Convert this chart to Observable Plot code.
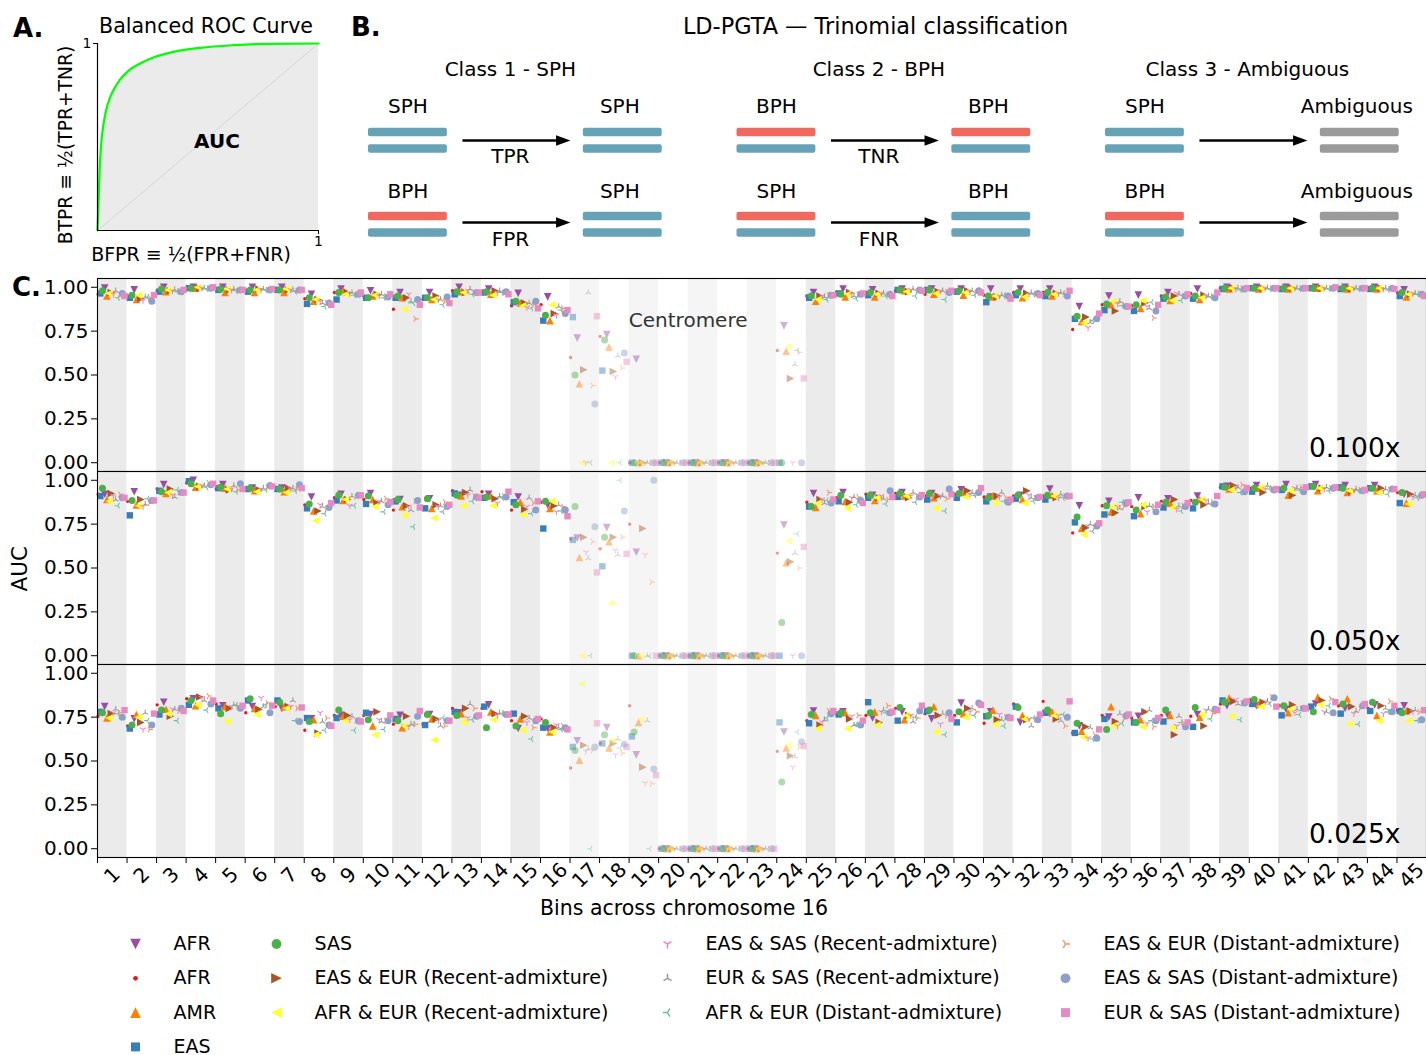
<!DOCTYPE html>
<html>
<head>
<meta charset="utf-8">
<script src="https://cdn.jsdelivr.net/npm/d3@7"></script>
<script src="https://cdn.jsdelivr.net/npm/@observablehq/plot@0.6"></script>
<style>
  body { margin: 0; background: #fff; overflow: hidden; font-family: "DejaVu Sans", sans-serif; }
  #fig { position: relative; width: 1426px; height: 1055px; background: #fff; }
  #fig > svg, #fig > figure { position: absolute; margin: 0; }
  .txt { position: absolute; white-space: nowrap; line-height: 1; color: #000; }
</style>
</head>
<body>
<div id="fig"></div>
<script>
// ---------------- data ----------------
// Panel A: balanced ROC curve
const rocBFPR = [0, 0.003, 0.006, 0.009, 0.0136, 0.0196, 0.03, 0.045, 0.068, 0.10, 0.14, 0.193, 0.253, 0.344, 0.465, 0.615, 0.766, 1];
const rocBTPR = [0, 0.089, 0.196, 0.304, 0.411, 0.5, 0.589, 0.67, 0.741, 0.804, 0.854, 0.893, 0.925, 0.955, 0.977, 0.991, 0.998, 1];

// Panel B: trinomial classification scheme
const classTitles = ["Class 1 - SPH", "Class 2 - BPH", "Class 3 - Ambiguous"];
const transitions = [
  {cls: 0, row: 0, from: "SPH", to: "SPH",       rate: "TPR", fromBars: ["SPH", "SPH"], toBars: ["SPH", "SPH"]},
  {cls: 0, row: 1, from: "BPH", to: "SPH",       rate: "FPR", fromBars: ["BPH", "SPH"], toBars: ["SPH", "SPH"]},
  {cls: 1, row: 0, from: "BPH", to: "BPH",       rate: "TNR", fromBars: ["BPH", "SPH"], toBars: ["BPH", "SPH"]},
  {cls: 1, row: 1, from: "SPH", to: "BPH",       rate: "FNR", fromBars: ["BPH", "SPH"], toBars: ["SPH", "SPH"]},
  {cls: 2, row: 0, from: "SPH", to: "Ambiguous", rate: "",    fromBars: ["SPH", "SPH"], toBars: ["AMB", "AMB"]},
  {cls: 2, row: 1, from: "BPH", to: "Ambiguous", rate: "",    fromBars: ["BPH", "SPH"], toBars: ["AMB", "AMB"]}
];

// Panel C: AUC per bin of chromosome 16 for three coverages
const bins = d3.range(1, 46);
const centromereBins = [17, 18, 19, 20, 21, 22, 23, 24];
const coverages = ["0.100x", "0.050x", "0.025x"];
const groups = ["AFR", "AFR", "AMR", "EAS", "SAS",
  "EAS & EUR (Recent-admixture)", "AFR & EUR (Recent-admixture)",
  "EAS & SAS (Recent-admixture)", "EUR & SAS (Recent-admixture)",
  "AFR & EUR (Distant-admixture)", "EAS & EUR (Distant-admixture)",
  "EAS & SAS (Distant-admixture)", "EUR & SAS (Distant-admixture)"];
// columns of each row below (index into groups) = left-to-right order inside a bin
const rowOrder = [1, 3, 4, 0, 2, 6, 5, 7, 8, 9, 10, 11, 12];

// AUC x 100, one row per bin
const auc0100x = [
  "96 96.5 98 99.5 95 96.5 97 96 98 94 95.5 96.5 95",
  "95 94 95.5 98.5 93 95.5 93.5 92.5 94.5 94.5 94 92 95.5",
  "98 97.5 99 100 97.5 98.5 98 98 98.5 97.5 98 97.5 98.5",
  "99.5 99.5 99.5 100 99.5 100 99.5 99.5 99.5 99 99.5 99.5 100",
  "98.5 98.5 99 100 97 99 98.5 98.5 99 98 98 98.5 98.5",
  "98 97.5 98.5 100 97 98.5 99 98.5 99 98.5 98.5 98.5 99",
  "98.5 98.5 98.5 100 97 99 98.5 98.5 98.5 97.5 98 98.5 98.5",
  "93.5 90.5 94 96 92 93 93 92 91 89 91 91 90",
  "97 93 97 99 98 96 97 96.5 97 95.5 96 96 97",
  "95 94 94 98 95 95.5 96 95 96 94 95 94.5 96",
  "87.5 94 95 97 94 87.5 94 96 92 91 82 93 90",
  "93 94 94 97 93 93 95 93 93 90 92 94.5 91",
  "98 96 97.5 100 97.5 97 97 98 99 96 97 97 97",
  "97 97 97.5 99 96 95.5 98 97 98 97 97 97.5 96",
  "89.5 91.5 92 96.5 91 89.5 91 88.5 91 88 90 92 88",
  "90 81 84 94.5 81 90 85 84 89 87 88 85 87",
  "60 83 50 71 45 0 53 0 97 0 44 33.5 83.5",
  "72 52.5 70 73 66 0 52 49 61 0 54 62.5 57.5",
  "0 0 0 59 0 0 0 0 0 0 0 0 0",
  "0 0 0 0 0 0 0 0 0 0 0 0 0",
  "0 0 0 0 0 0 0 0 0 0 0 0 0",
  "0 0 0 0 0 0 0 0 0 0 0 0 0",
  "0 0 0 0 0 0 0 0 0 0 0 0 0",
  "64 0 0 78 63.5 66 48 0 56 64 63 0 48",
  "95 94 95 97 92 93 95 95 94.5 93 95.5 95.5 95.5",
  "97 96.5 96 99 94.5 96 97 96 95 93.5 96 96 96.5",
  "97 95.5 97 98.5 94.5 96 96.5 96.5 96.5 95 96 96 95",
  "98 98.5 98.5 99 98 97.5 97.5 98.5 99 95 98 98.5 98",
  "96 98.5 98.5 99 96 96.5 97.5 98 98 93 97.5 97 98",
  "98 97.5 98 99 95.5 97 98 97.5 98 95.5 97 98 97",
  "95.5 91.5 95 99 94.5 95 94.5 95 95.5 95.5 95 95 93.5",
  "97 95.5 97 99 94 94.5 96.5 96 97 96 96 96.5 95.5",
  "97 95 97 99 95 96 96.5 96.5 97 96.5 96 95 98",
  "76 82 83.5 89 80.5 79.5 83 77 80 81 81 82 85",
  "90 87 90.5 95 90 92 86.5 90.5 92 89.5 90 89 89",
  "89.5 86.5 90 95.5 88 92.5 91 89 88 91.5 82.5 86.5 90",
  "95 93.5 94.5 97 92.5 92.5 95 96.5 96 92.5 95 95 96",
  "96.5 93.5 95 99 93 94 95.5 95 95 94.5 95 94 97",
  "99.5 99 99.5 100 99 99.5 99.5 99 99.5 98.5 99.5 99 99.5",
  "100 99.5 99.5 100 99 99.5 99.5 99.5 99.5 99 99.5 99.5 99.5",
  "99.5 99 99.5 100 99 99.5 99.5 99.5 99.5 99 99.5 99.5 99.5",
  "100 99.5 99.5 100 99.5 99.5 99.5 99.5 99.5 99 99.5 99.5 100",
  "99.5 99 99.5 100 99 99.5 99 99.5 99.5 99 99.5 99.5 99.5",
  "99.5 99 99.5 100 99 99.5 99.5 99 99.5 98.5 99 99.5 99",
  "97 95 97 98.5 94.5 96 96 96.5 96.5 96 96.5 96 95"
];
const auc0050x = [
  "92 91 95.5 92 89 88 92.5 91 89 85.5 92 90 90",
  "88 80 88.5 93.5 86 85.5 89 85 86.5 89.5 87 88.5 88.5",
  "95 94 93.5 97.5 92.5 93 95 91.5 90.5 94.5 93 93 93",
  "98.5 99.5 98 100 96 96.5 96.5 97 97 96 98.5 97.5 98",
  "95 95.5 96 97.5 95.5 95 94.5 95 97 93.5 94.5 98 95",
  "95.5 95 95.5 95.5 94 93.5 94.5 95 95.5 94.5 96 97 96.5",
  "96 95 95 95.5 93.5 93 95.5 95 95.5 94 95 97.5 95.5",
  "86 84 86.5 90.5 82.5 77 82.5 86 85 81 84 84.5 87",
  "90 88.5 91.5 92 88.5 89 89 85.5 91 85.5 90.5 91.5 91.5",
  "89 86.5 91 92.5 89 85 87 88 88 82 89.5 86 87.5",
  "83 88 89 89 85 80 85.5 85 83 73.5 88 88.5 84.5",
  "84 84 89.5 89.5 84 78.5 86 85 85.5 82 87.5 85 86",
  "94 92.5 91.5 91.5 91 85.5 93 91.5 94.5 88 91 90.5 90",
  "93.5 90 90.5 92 91 85.5 89.5 87 91 90 91 90.5 93.5",
  "83 87.5 86 90.5 87.5 80.5 83.5 85 90 81 87 83 88",
  "87.5 72.5 88 86 84 88 85.5 82 86 82.5 85 83 79.5",
  "66.5 66 85 67 56 0 67.5 59 55.5 0 65 73.5 47.5",
  "61 51 67.5 73 65 30 67.5 60 57.5 100 67.5 82.5 58",
  "75 0 0 59 0 0 72.5 57.5 0 0 42 100 0",
  "0 0 0 0 0 0 0 0 0 0 0 0 0",
  "0 0 0 0 0 0 0 0 0 0 0 0 0",
  "0 0 0 0 0 0 0 0 0 0 0 0 0",
  "0 0 0 0 0 0 0 0 0 0 0 0 0",
  "58.5 0 19 74.5 53 65.5 53.5 0 58.5 69.5 50 0 62",
  "87.5 85 85 92.5 84.5 87 89 89 87 88.5 93 87 89",
  "90 88 91.5 93 88 84 87.5 90 90.5 86 90.5 88.5 87",
  "92 90 91.5 91.5 88.5 90 90 91 89.5 86.5 89 94 90.5",
  "92.5 90.5 92.5 93 91 91 90 91 93 87.5 91 90.5 91.5",
  "91 89 92.5 92.5 90 84 91 91 91 82.5 89.5 95 92",
  "92 90 92.5 94.5 93 90.5 94 92 93 91.5 92 93 95.5",
  "90.5 88 90 90.5 91 87 91 90.5 93 88 90 87.5 89",
  "91 89.5 91.5 91.5 89 87 94 91.5 90 88 90 90 90.5",
  "91 89 91.5 95 91.5 91 90 90 92 90 91 91 91",
  "70 76 79 85.5 72.5 69 73 74 75 71 73 74 75.5",
  "85.5 80.5 85.5 88 82 85 81.5 85 84 87.5 85 87 87.5",
  "85 79.5 83 90 81 86 85 82 85.5 85 85 82 86",
  "88 84.5 87.5 89.5 87 84.5 89 83.5 85.5 82.5 85.5 85 87",
  "88.5 84 87.5 91 89 89 86 88.5 87 86.5 87.5 86.5 91",
  "96 96.5 96 96.5 95 94.5 97 96 96 93 97.5 93.5 95.5",
  "95.5 93.5 95.5 97 95.5 96 93 95 97 95 95.5 94.5 95",
  "95.5 94.5 95.5 97.5 91.5 94 91.5 95.5 95.5 94.5 96 93.5 96",
  "96 96.5 96.5 97.5 94 95.5 95.5 95 96 94 95.5 95.5 96",
  "95 96 95.5 97 93 94 93.5 94.5 95 94 94.5 94 94.5",
  "95.5 95.5 95.5 97 94 93 95.5 94 95 92 94.5 95 95",
  "93 87 93 92 87 86.5 92 90.5 91.5 90 90 91.5 92"
];
const auc0025x = [
  "75.5 78 77.5 81 74.5 74.5 77 77.5 79.5 77 77.5 75 79",
  "70 68.5 70.5 74 76.5 75 72 68 77.5 73 68 70.5 77",
  "82 76.5 79 83.5 79.5 77 75.5 79.5 79.5 73 78.5 80 78.5",
  "85.5 82 84.5 85.5 81.5 82 86.5 86 84.5 79 87 82.5 84.5",
  "82.5 80 77 81.5 81 72.5 80 81 82 82 81 80 81.5",
  "77.5 84.5 85.5 81 80 76.5 79.5 86 81 82 83 77.5 81.5",
  "81 84.5 83.5 80 81 80 81 81 84.5 73 80 72.5 80.5",
  "67.5 74.5 72.5 74 73.5 65 66 77.5 72.5 67.5 74.5 70.5 70",
  "76 74.5 79 76 75.5 73 76 73.5 75.5 67.5 73 73 72.5",
  "76 77.5 73.5 76.5 70 65 78 73.5 72.5 68 73 73 76",
  "71 74 73 76 69 70 75.5 69.5 71 71 71 75.5 78.5",
  "71 70.5 76.5 76.5 74 62 74 73 70 74.5 70 73 73",
  "80 78 76 77.5 77 72 80 74.5 82.5 73.5 80 75.5 76",
  "80 81 69 82 78 73.5 77 76 77.5 77 77.5 76.5 76.5",
  "73 77 70 68.5 74 67.5 75.5 72 74.5 62.5 69 73 74",
  "74 69 72 68.5 66.5 66.5 69 70.5 69 68 70 69 68",
  "46 58 56 61.5 50.5 94 59 55.5 57 0 56 58 71.5",
  "60 60 65 69 57.5 61.5 60 53.5 62.5 57.5 54.5 59.5 58",
  "81.5 64 66.5 53.5 72 74 46.5 37.5 73 0 37 45.5 42",
  "0 0 0 0 0 0 0 0 0 0 0 0 0",
  "0 0 0 0 0 0 0 0 0 0 0 0 0",
  "0 0 0 0 0 0 0 0 0 0 0 0 0",
  "0 0 0 0 0 0 0 0 0 0 0 0 0",
  "55.5 72 38 66.5 57.5 59 53 46.5 52.5 66.5 58 61 58.5",
  "73 71.5 76.5 78.5 76 68.5 70.5 72 73.5 74.5 78.5 77 78.5",
  "77 76.5 77.5 78 77.5 68.5 74 75.5 70.5 71 76 70.5 73",
  "76 83.5 77.5 74.5 78 70.5 72 78 79 77.5 81.5 77.5 78",
  "80 73 80.5 78 73.5 76 76 76 72.5 75 74.5 78.5 81.5",
  "77 78.5 79 74 81 66.5 76 71 77 65 76 77.5 74",
  "76 72 78 83 77 75 80 78 80 76 78 83 82",
  "71.5 75.5 76 78 79 71 73.5 76.5 73.5 70 75 75 74.5",
  "82.5 81 80.5 72 76 74 73.5 74 70 74.5 74 73.5 76.5",
  "84 77.5 79 77 78 76 74 76 73 76.5 70 75 84",
  "66 66 71.5 70 67 63.5 69.5 63 69 62.5 65 63 68",
  "76 74 68 75 81 70 72.5 70 77 71.5 74 76 76.5",
  "74.5 72 72 75.5 73.5 69.5 78 71.5 79 73 69.5 73 74.5",
  "76 72.5 79 76 76 69 65 70 75.5 72 72 69.5 72",
  "75.5 69.5 80.5 76.5 75 76.5 70 79 79.5 74 77 79.5 79",
  "82.5 84.5 83.5 81.5 86 75.5 84 85 82.5 73.5 83 83 84",
  "85 82.5 85 81.5 82.5 81 83.5 84 84 82.5 86.5 86 81",
  "81.5 76 81.5 79.5 77.5 79.5 82 77.5 79.5 76.5 80 80 80",
  "80 81 78 82.5 86.5 82 84.5 78 78 81.5 85.5 77.5 83.5",
  "81.5 77 82.5 80 85.5 71 81 77 78.5 71 80 81.5 82.5",
  "80 78.5 83.5 82 76 73 81.5 77 80 78 84 78 81.5",
  "79 78.5 77.5 81.5 78.5 73 78.5 78 79 73 78 73.5 79"
];
const aucByCoverage = [auc0100x, auc0050x, auc0025x];

// ---------------- styles ----------------
const groupColors = ["#984ea3", "#e41a1c", "#ff7f00", "#377eb8", "#4daf4a", "#a65628", "#ffff33",
  "#f781bf", "#999999", "#66c2a5", "#fc8d62", "#8da0cb", "#e78ac3"];
const hapColors = {SPH: "#67a3b7", BPH: "#f0695e", AMB: "#9b9b9b"};
const FONT = "DejaVu Sans";

// marker shapes (matplotlib-like) as d3 symbol types; size = PI r^2
const rOf = size => Math.sqrt(size / Math.PI);
const polygon = pts => ({draw(ctx, size) {
  const r = rOf(size);
  ctx.moveTo(pts[0][0] * r, pts[0][1] * r);
  for (const p of pts.slice(1)) ctx.lineTo(p[0] * r, p[1] * r);
  ctx.closePath();
}});
const spokes = degs => ({draw(ctx, size) {
  const r = rOf(size);
  for (const a of degs) {
    const t = a * Math.PI / 180;
    ctx.moveTo(0, 0);
    ctx.lineTo(r * Math.cos(t), r * Math.sin(t));
  }
}});
const disc = {draw(ctx, size) { const r = rOf(size); ctx.moveTo(r, 0); ctx.arc(0, 0, r, 0, 2 * Math.PI); }};
const triDown = polygon([[0, 1], [-1, -1], [1, -1]]);
const triUp = polygon([[0, -1], [-1, 1], [1, 1]]);
const triRight = polygon([[1, 0], [-1, -1], [-1, 1]]);
const triLeft = polygon([[-1, 0], [1, -1], [1, 1]]);
const box = polygon([[-1, -1], [1, -1], [1, 1], [-1, 1]]);
const arrowHead = polygon([[0, 0], [-2, -0.72], [-2, 0.72]]);

const groupSymbols = [triDown, disc, triUp, box, disc, triRight, triLeft,
  spokes([90, -30, 210]), spokes([-90, 30, 150]), spokes([180, 60, -60]), spokes([0, 120, 240]), disc, box];
const groupRadius = [3.8, 1.7, 3.8, 3.2, 3.5, 3.8, 3.8, 3.3, 3.3, 3.3, 3.3, 3.5, 3.2];
const groupStroked = [false, false, false, false, false, false, false, true, true, true, true, false, false];

function groupDots(data, g, {x, y, opacity = 1, scale = 1}) {
  const stroked = groupStroked[g];
  return Plot.dot(data, {
    x, y,
    symbol: groupSymbols[g],
    r: groupRadius[g] * scale,
    fill: stroked ? "none" : groupColors[g],
    stroke: stroked ? groupColors[g] : "none",
    strokeWidth: stroked ? 1.05 * scale : 0,
    fillOpacity: opacity,
    strokeOpacity: opacity
  });
}

const fig = document.getElementById("fig");
function place(node, left, top) {
  node.style.left = left + "px";
  node.style.top = top + "px";
  fig.appendChild(node);
}
function label(text, left, top, css = "") {
  const d = document.createElement("div");
  d.className = "txt";
  d.textContent = text;
  d.style.cssText += css;
  place(d, left, top);
  return d;
}

// ---------------- Panel A ----------------
const roc = rocBFPR.map((x, i) => ({x, y: rocBTPR[i]}));
const panelA = Plot.plot({
  width: 340, height: 270,
  marginLeft: 97, marginRight: 22, marginTop: 43, marginBottom: 40,
  style: {fontFamily: FONT, fontSize: "14px", color: "#000", background: "transparent", overflow: "visible"},
  x: {domain: [0, 1], ticks: [1], tickSize: 4, tickPadding: 2, tickFormat: d => String(d), label: null},
  y: {domain: [0, 1], ticks: [1], tickSize: 4, tickPadding: 2, tickFormat: d => String(d), label: null},
  marks: [
    Plot.areaY(roc, {x: "x", y: "y", fill: "#ebebeb", curve: "monotone-x"}),
    Plot.line([{x: 0, y: 0}, {x: 1, y: 1}], {x: "x", y: "y", stroke: "#cfcfcf", strokeWidth: 0.9, strokeDasharray: "2,1.2"}),
    Plot.line(roc, {x: "x", y: "y", stroke: "#00ff00", strokeWidth: 2.2, curve: "monotone-x"}),
    Plot.ruleX([0], {y1: 0, y2: 1, stroke: "#000", strokeWidth: 1.2}),
    Plot.ruleY([0], {x1: 0, x2: 1, stroke: "#000", strokeWidth: 1.2}),
    Plot.text(["AUC"], {frameAnchor: "middle", dx: 9, dy: 5, fontSize: 20, fontWeight: "bold"}),
    Plot.text(["Balanced ROC Curve"], {frameAnchor: "top", dx: -2, dy: -17, fontSize: 20.6, lineAnchor: "middle"}),
    Plot.text(["BFPR ≡ ½(FPR+FNR)"], {frameAnchor: "bottom", dx: -17, dy: 24, fontSize: 19, lineAnchor: "middle"}),
    Plot.text(["BTPR ≡ ½(TPR+TNR)"], {frameAnchor: "left", dx: -31, dy: 8, rotate: -90, fontSize: 18.7, textAnchor: "middle", lineAnchor: "middle"})
  ]
});
place(panelA, 0, 0);

// ---------------- Panel B ----------------
const B = {barLen: 0.214, rightStart: 0.583, arrowStart: 0.255, arrowTip: 0.548, mid: 0.385, labelShift: -0.008,
  barY: [132, 216], barGap: 16.5, barH: 8.6, arrowY: [140, 222], labelY: [106, 191], rateY: [156, 239]};
const barsB = transitions.flatMap(t => [0, 1].flatMap(side => [0, 1].map(h => {
  const x1 = t.cls + (side ? B.rightStart : 0);
  const yc = B.barY[t.row] + h * B.barGap;
  return {x1, x2: x1 + B.barLen, y1: yc - B.barH / 2, y2: yc + B.barH / 2,
    fill: hapColors[(side ? t.toBars : t.fromBars)[h]]};
})));
const panelB = Plot.plot({
  width: 1086, height: 260, margin: 0,
  style: {fontFamily: FONT, fontSize: "20px", color: "#000", background: "transparent", overflow: "visible"},
  x: {domain: [0, 3], range: [28, 28 + 3 * 368.5], axis: null},
  y: {domain: [0, 260], range: [0, 260], axis: null},
  color: {type: "identity"},
  marks: [
    Plot.text(["LD-PGTA — Trinomial classification"], {x: 1.376, y: 26, fontSize: 22.4}),
    Plot.text(classTitles, {x: (d, i) => i + B.mid, y: 69, fontSize: 20}),
    Plot.text(transitions, {x: t => t.cls + B.barLen / 2, y: t => B.labelY[t.row], text: "from", fontSize: 20}),
    Plot.text(transitions, {x: t => t.cls + B.rightStart + B.barLen / 2 + B.labelShift, y: t => B.labelY[t.row], text: "to", fontSize: 20}),
    Plot.rect(barsB, {x1: "x1", x2: "x2", y1: "y1", y2: "y2", fill: "fill", rx: 2}),
    Plot.link(transitions, {x1: t => t.cls + B.arrowStart, x2: t => t.cls + B.arrowTip - 0.02,
      y1: t => B.arrowY[t.row], y2: t => B.arrowY[t.row], stroke: "#000", strokeWidth: 2.3}),
    Plot.dot(transitions, {x: t => t.cls + B.arrowTip, y: t => B.arrowY[t.row], symbol: arrowHead, r: 7.2, fill: "#000", stroke: "none"}),
    Plot.text(transitions, {x: t => t.cls + B.mid, y: t => B.rateY[t.row], text: "rate", fontSize: 20})
  ]
});
place(panelB, 340, 0);

// ---------------- Panel C ----------------
const C = {height: 193, tops: [278, 471, 664], slot: 0.0745, slotStart: 0.02};
function aucPanel(k) {
  const pts = [];
  aucByCoverage[k].forEach((row, i) => {
    row.trim().split(/\s+/).forEach((v, slot) => {
      pts.push({bin: bins[i], slot, g: rowOrder[slot], auc: +v / 100, faded: centromereBins.includes(bins[i])});
    });
  });
  const last = k === coverages.length - 1;
  const xPos = p => p.bin - 0.5 + C.slotStart + p.slot * C.slot;
  const marks = [
    Plot.rect(bins.filter(b => b % 2 === 1 && !centromereBins.includes(b)), {x1: b => b - 0.5, x2: b => b + 0.5, fill: "#ebebeb"}),
    Plot.rect(bins.filter(b => b % 2 === 1 && centromereBins.includes(b)), {x1: b => b - 0.5, x2: b => b + 0.5, fill: "#f5f5f5"})
  ];
  for (let g = 0; g < groups.length; g++) {
    marks.push(groupDots(pts.filter(p => p.g === g && !p.faded), g, {x: xPos, y: "auc"}));
    marks.push(groupDots(pts.filter(p => p.g === g && p.faded), g, {x: xPos, y: "auc", opacity: 0.45}));
  }
  marks.push(Plot.frame({stroke: "#000", strokeWidth: 1.1}));
  marks.push(Plot.text([coverages[k]], {frameAnchor: "bottom-right", textAnchor: "end", lineAnchor: "middle", dx: -26, dy: -22.5, fontSize: 26.5}));
  if (k === 0) {
    marks.push(Plot.text(["Centromere"], {x: d3.mean(centromereBins), frameAnchor: "top", lineAnchor: "middle", dy: 42, fontSize: 20, fill: "#333"}));
  }
  if (last) {
    marks.push(Plot.text(bins, {x: b => b, text: b => String(b), frameAnchor: "bottom", dy: 18,
      rotate: -45, textAnchor: "middle", lineAnchor: "middle", fontSize: 20}));
  }
  return Plot.plot({
    width: 1426, height: C.height + (last ? 45 : 0),
    marginLeft: 97, marginRight: 0, marginTop: 0, marginBottom: last ? 45 : 0,
    style: {fontFamily: FONT, fontSize: "20px", color: "#000", background: "transparent", overflow: "visible"},
    x: last
      ? {domain: [0.5, 45.5], ticks: d3.range(0.5, 46, 1), tickSize: 6, tickFormat: () => "", label: null}
      : {domain: [0.5, 45.5], axis: null},
    y: {domain: [-0.05, 1.05], ticks: [0, 0.25, 0.5, 0.75, 1], tickFormat: ".2f", tickSize: 6, tickPadding: 3, label: null},
    marks
  });
}
coverages.forEach((c, k) => place(aucPanel(k), 0, C.tops[k]));

label("AUC", -30, 558, "width:100px;text-align:center;font-size:21.5px;transform:rotate(-90deg);");
label("Bins across chromosome 16", 434, 898, "width:500px;text-align:center;font-size:20.5px;");

// ---------------- legend ----------------
const legendCol = [0, 0, 0, 0, 1, 1, 1, 2, 2, 2, 3, 3, 3];
const legendRow = [0, 1, 2, 3, 0, 1, 2, 0, 1, 2, 0, 1, 2];
const L = {markerX: [135, 276, 667, 1065], textGap: 38, rowY0: 18.5, rowStep: 34.3};
const legendItems = groups.map((name, g) => ({g, name,
  x: L.markerX[legendCol[g]], y: L.rowY0 + legendRow[g] * L.rowStep}));
const legendMarks = legendItems.map(d => groupDots([d], d.g, {x: "x", y: "y", scale: 1.4}));
legendMarks.push(Plot.text(legendItems, {x: d => d.x + L.textGap, y: "y", text: "name", textAnchor: "start", fontSize: 19}));
const legend = Plot.plot({
  width: 1426, height: 129, margin: 0,
  style: {fontFamily: FONT, fontSize: "19px", color: "#000", background: "transparent", overflow: "visible"},
  x: {domain: [0, 1426], range: [0, 1426], axis: null},
  y: {domain: [0, 129], range: [0, 129], axis: null},
  marks: legendMarks
});
place(legend, 0, 925);

// panel letters
label("A.", 13, 15, "font-weight:bold;font-size:26px;");
label("B.", 351, 14, "font-weight:bold;font-size:26px;");
label("C.", 12, 274, "font-weight:bold;font-size:26px;");
</script>
</body>
</html>
